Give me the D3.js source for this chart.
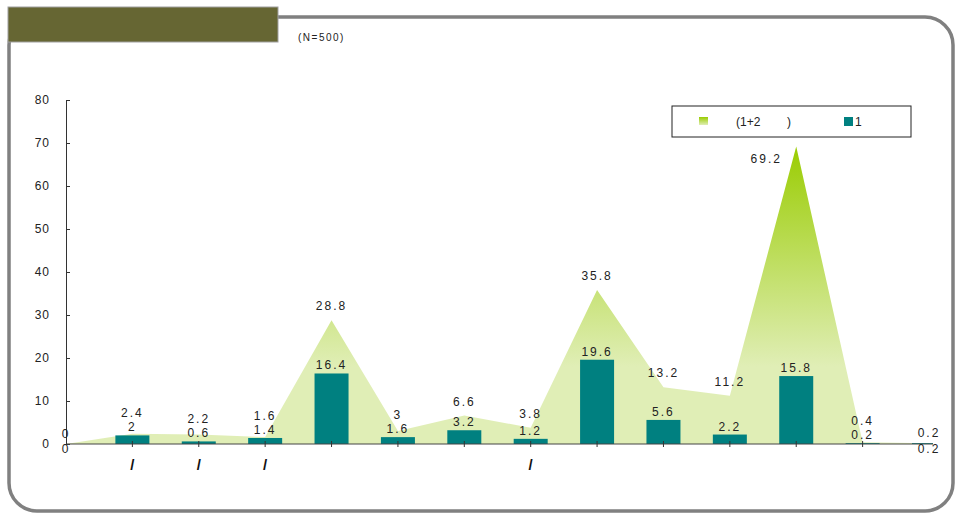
<!DOCTYPE html>
<html>
<head>
<meta charset="utf-8">
<script src="https://cdn.jsdelivr.net/npm/d3@7"></script>
<style>
body { margin: 0; background: #fff; }
text { font-family: "Liberation Sans", Arial, sans-serif; }
</style>
</head>
<body>
<svg width="956" height="515"></svg>
<script>
// categories (the original labels only kept their slashes)
var categories = ["", "/", "/", "/", "", "", "", "/", "", "", "", "", "", ""];
var totalValues = [0, 2.4, 2.2, 1.6, 28.8, 3, 6.6, 3.8, 35.8, 13.2, 11.2, 69.2, 0.4, 0.2];
var firstValues = [0, 2, 0.6, 1.4, 16.4, 1.6, 3.2, 1.2, 19.6, 5.6, 2.2, 15.8, 0.2, 0.2];
var yTicks = [0, 10, 20, 30, 40, 50, 60, 70, 80];

var screen = {width: 956, height: 515};
var svg = d3.select("svg");

// frame
svg.append("rect")
    .attr("x", 9).attr("y", 17)
    .attr("width", 944).attr("height", 494)
    .attr("rx", 28)
    .attr("fill", "none")
    .attr("stroke", "#808080")
    .attr("stroke-width", 3.5);

svg.append("rect")
    .attr("x", 8).attr("y", 7)
    .attr("width", 270).attr("height", 35)
    .attr("fill", "#666633")
    .attr("stroke", "#a0a0a0")
    .attr("stroke-width", 1);

svg.append("text")
    .attr("x", 298).attr("y", 41)
    .attr("font-size", 10)
    .attr("letter-spacing", 1.5)
    .attr("fill", "#222")
    .text("(N=500)");

var xScale = d3.scalePoint()
    .domain(d3.range(categories.length))
    .range([66, 929]);

var yScale = d3.scaleLinear()
    .domain([0, 80])
    .range([444, 100]);

var plotRight = 933;
var barWidth = 34;
var lastIndex = categories.length - 1;

// gradient for the area
var defs = svg.append("defs");
var grad = defs.append("linearGradient")
    .attr("id", "areaGrad")
    .attr("gradientUnits", "userSpaceOnUse")
    .attr("x1", 0).attr("x2", 0)
    .attr("y1", yScale(18)).attr("y2", yScale(70));
grad.append("stop").attr("offset", 0).attr("stop-color", "#e0eeb6");
grad.append("stop").attr("offset", 1).attr("stop-color", "#99cc00");

var legGrad = defs.append("linearGradient")
    .attr("id", "legGrad")
    .attr("x1", 0).attr("x2", 0).attr("y1", 0).attr("y2", 1);
legGrad.append("stop").attr("offset", 0).attr("stop-color", "#99cc00");
legGrad.append("stop").attr("offset", 1).attr("stop-color", "#e0eeb6");

defs.append("clipPath").attr("id", "plotClip")
    .append("rect")
    .attr("x", 66).attr("y", 90)
    .attr("width", plotRight - 66).attr("height", 360);

var area = d3.area()
    .x(function(d, i) { return xScale(i); })
    .y0(yScale(0))
    .y1(function(d) { return yScale(d); });

svg.append("path")
    .datum(totalValues)
    .attr("d", area)
    .attr("fill", "url(#areaGrad)");

svg.append("g")
    .attr("clip-path", "url(#plotClip)")
    .selectAll("rect")
    .data(firstValues)
    .enter()
    .append("rect")
    .attr("x", function(d, i) { return xScale(i) - barWidth / 2; })
    .attr("y", function(d) { return yScale(d); })
    .attr("width", barWidth)
    .attr("height", function(d) { return yScale(0) - yScale(d); })
    .attr("fill", "#008080");

// y axis
var yAxis = d3.axisLeft(yScale)
    .tickValues(yTicks)
    .tickSize(-4)
    .tickPadding(16);
var yG = svg.append("g")
    .attr("transform", "translate(66,0)")
    .call(yAxis);
yG.select(".domain").attr("stroke", "#333");
yG.selectAll(".tick line").attr("stroke", "#333");
yG.selectAll(".tick text")
    .attr("font-family", "Liberation Sans, Arial, sans-serif")
    .attr("font-size", 12)
    .attr("letter-spacing", 1)
    .attr("fill", "#222");

// x axis
svg.append("line")
    .attr("x1", 66).attr("x2", plotRight)
    .attr("y1", yScale(0)).attr("y2", yScale(0))
    .attr("stroke", "#444");
svg.selectAll(".xtick")
    .data(categories.slice(1, lastIndex))
    .enter()
    .append("line")
    .attr("x1", function(d, i) { return xScale(i + 1); })
    .attr("x2", function(d, i) { return xScale(i + 1); })
    .attr("y1", yScale(0) - 3)
    .attr("y2", yScale(0) + 3)
    .attr("stroke", "#333");
svg.selectAll(".xlabel")
    .data(categories)
    .enter()
    .append("text")
    .attr("x", function(d, i) { return xScale(i); })
    .attr("y", 470)
    .attr("text-anchor", "middle")
    .attr("font-size", 15)
    .attr("font-weight", "bold")
    .attr("fill", "#111")
    .text(function(d) { return d; });

// value labels
var isEdge = function(i) { return i === 0 || i === lastIndex; };
var barLabelY = firstValues.map(function(d, i) {
    return isEdge(i) ? yScale(0) + 9 : yScale(d) - 4;
});
var legendBox = {x: 672, y: 106, w: 239, h: 31};

svg.selectAll(".barLabel")
    .data(firstValues)
    .enter()
    .append("text")
    .attr("x", function(d, i) { return xScale(i); })
    .attr("y", function(d, i) { return barLabelY[i]; })
    .attr("text-anchor", "middle")
    .attr("font-size", 12)
    .attr("letter-spacing", 2)
    .attr("fill", "#222")
    .text(function(d) { return d; });

svg.selectAll(".areaLabel")
    .data(totalValues)
    .enter()
    .append("text")
    .each(function(d, i) {
        var x = xScale(i);
        var y = isEdge(i) ? yScale(d) - 6 : Math.min(yScale(d) - 10, barLabelY[i] - 14);
        // keep clear of the legend
        if (y - 12 < legendBox.y + legendBox.h && x > legendBox.x && x < legendBox.x + legendBox.w) {
            y = legendBox.y + legendBox.h + 26;
            x = x - 30;
        }
        d3.select(this).attr("x", x).attr("y", y);
    })
    .attr("text-anchor", "middle")
    .attr("font-size", 12)
    .attr("letter-spacing", 2)
    .attr("fill", "#222")
    .text(function(d) { return d; });

// legend
var leg = svg.append("g");
leg.append("rect")
    .attr("x", legendBox.x).attr("y", legendBox.y)
    .attr("width", legendBox.w).attr("height", legendBox.h)
    .attr("fill", "#fff")
    .attr("stroke", "#222")
    .attr("stroke-width", 1);
leg.append("rect")
    .attr("x", 699).attr("y", 117)
    .attr("width", 9).attr("height", 8)
    .attr("fill", "url(#legGrad)");
leg.append("text")
    .attr("x", 736).attr("y", 126)
    .attr("font-size", 12)
    .attr("fill", "#222")
    .text("(1+2");
leg.append("text")
    .attr("x", 787).attr("y", 126)
    .attr("font-size", 12)
    .attr("fill", "#222")
    .text(")");
leg.append("rect")
    .attr("x", 844).attr("y", 117)
    .attr("width", 9).attr("height", 9)
    .attr("fill", "#008080");
leg.append("text")
    .attr("x", 855).attr("y", 126)
    .attr("font-size", 12)
    .attr("fill", "#222")
    .text("1");
</script>
</body>
</html>
